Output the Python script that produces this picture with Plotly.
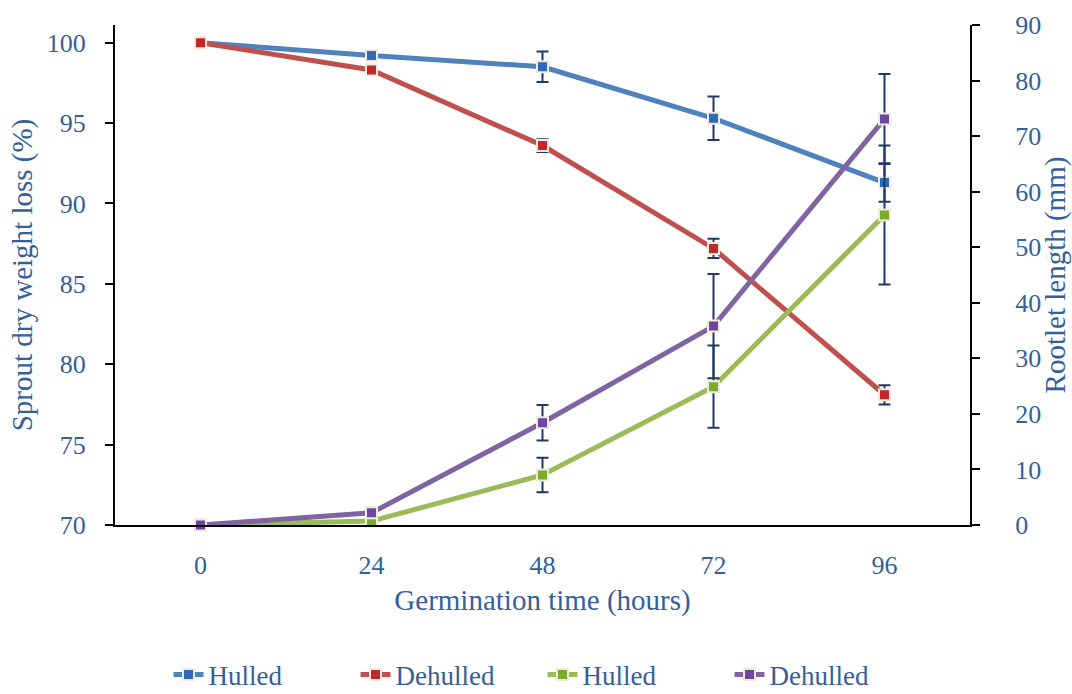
import plotly.graph_objects as go

hours = ["0", "24", "48", "72", "96"]

weight_hulled = [100.0, 99.2, 98.5, 95.3, 91.3]
weight_hulled_err = [0, 0, 0.95, 1.35, 1.2]
weight_dehulled = [100.0, 98.3, 93.6, 87.2, 78.1]
weight_dehulled_err = [0, 0, 0.4, 0.6, 0.6]

rootlet_hulled = [0.0, 0.7, 9.0, 24.9, 55.8]
rootlet_hulled_err = [0, 0, 3.1, 7.4, 12.5]
rootlet_dehulled = [0.0, 2.2, 18.4, 35.8, 73.1]
rootlet_dehulled_err = [0, 0, 3.2, 9.4, 8.1]

names = ["Hulled", "Dehulled", "Hulled", "Dehulled"]
colors = ["#4F81BD", "#C0504D", "#9BBB59", "#8064A2"]
marker_fill = ["#2E6AB8", "#C0282A", "#7DAA2A", "#7045A0"]
err_color = "#1F3864"
text_color = "#34609A"
font_family = "Liberation Serif, Times New Roman, serif"

fig = go.Figure()

series = [
    (weight_hulled, weight_hulled_err, "y"),
    (weight_dehulled, weight_dehulled_err, "y"),
    (rootlet_hulled, rootlet_hulled_err, "y2"),
    (rootlet_dehulled, rootlet_dehulled_err, "y2"),
]

for i, (vals, errs, ax) in enumerate(series):
    fig.add_trace(go.Scatter(
        x=hours, y=vals, name=names[i], yaxis=ax,
        mode="lines+markers",
        line=dict(color=colors[i], width=5),
        marker=dict(symbol="square", size=11, color=marker_fill[i],
                    line=dict(color="#EFEBDC", width=2)),
        error_y=dict(type="data", array=errs, visible=True,
                     color=err_color, thickness=2, width=6),
        cliponaxis=False,
    ))

fig.update_layout(
    width=1072, height=694,
    margin=dict(l=115, r=102, t=25, b=169, autoexpand=False),
    paper_bgcolor="white", plot_bgcolor="white",
    font=dict(family=font_family, color=text_color, size=26),
    showlegend=True,
    legend=dict(orientation="h", x=0.5, xanchor="center", y=-0.3, yanchor="middle",
                font=dict(size=27, color=text_color),
                traceorder="normal", entrywidth=142, entrywidthmode="pixels"),
    xaxis=dict(
        type="category", range=[-0.5, 4.5],
        showline=True, linecolor="black", linewidth=2,
        ticks="", showgrid=False, zeroline=False, automargin=False,
        ticklabelstandoff=16,
        tickfont=dict(size=26, color=text_color),
        title=dict(text="Germination time (hours)", font=dict(size=29, color=text_color), standoff=10),
    ),
    yaxis=dict(
        range=[70, 101.1],
        tickvals=[70, 75, 80, 85, 90, 95, 100],
        showline=True, linecolor="black", linewidth=2,
        ticks="outside", ticklen=8, tickwidth=2, tickcolor="black",
        showgrid=False, zeroline=False, automargin=False,
        ticklabelstandoff=14,
        tickfont=dict(size=26, color=text_color),
        title=dict(text="Sprout dry weight loss (%)", font=dict(size=29, color=text_color), standoff=6),
    ),
    yaxis2=dict(
        range=[0, 90], overlaying="y", side="right",
        tickvals=[0, 10, 20, 30, 40, 50, 60, 70, 80, 90],
        showline=True, linecolor="black", linewidth=2,
        ticks="outside", ticklen=8, tickwidth=2, tickcolor="black",
        showgrid=False, zeroline=False, automargin=False,
        ticklabelstandoff=30,
        tickfont=dict(size=26, color=text_color),
        title=dict(text="Rootlet length (mm)", font=dict(size=29, color=text_color), standoff=3),
    ),
)

fig.write_html("out.html", config={"displayModeBar": False},
               post_script="document.body.style.margin='0';")
